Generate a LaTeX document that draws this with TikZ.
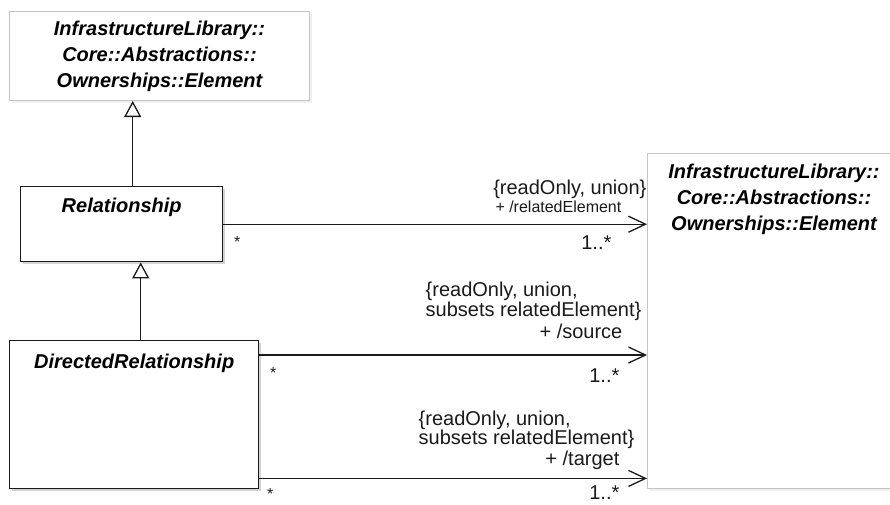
\documentclass[tikz,border=0pt]{standalone}
\usepackage{fontspec}
\setmainfont{Liberation Sans}
\usetikzlibrary{arrows.meta, shadows, positioning}
\definecolor{UMLline}{HTML}{1A1A1A}
\definecolor{UMLgray}{HTML}{C4C4C4}

\begin{document}
\begin{tikzpicture}[
      x=1pt, y=-1pt,
      box/.style={draw=UMLline, line width=1.4pt, fill=white, anchor=north west, inner sep=0pt,
                  drop shadow={shadow xshift=2.5pt, shadow yshift=-2.5pt, opacity=0.35}},
      extbox/.style={draw=UMLgray, line width=1pt, fill=white, anchor=north west, inner sep=0pt,
                  drop shadow={shadow xshift=2pt, shadow yshift=-2pt, opacity=0.12}},
      cls/.style={font=\fontsize{20}{26}\selectfont\bfseries\itshape, inner sep=0pt, align=center},
      lbl/.style={font=\fontsize{20}{19.5}\selectfont, inner sep=0pt, align=left},
      gen/.style={-{Triangle[open, length=16pt, width=17pt]}, line width=1.3pt, UMLline},
      arr/.style={-{Straight Barb[length=17pt, width=16pt]}, line width=1.3pt, UMLline}
   ]
      \useasboundingbox (0,0) rectangle (890,504);

      % classes
      \node[extbox, cls, minimum width=300pt, minimum height=89pt] (E1) at (9,11)
         {InfrastructureLibrary::\\Core::Abstractions::\\Ownerships::Element};
      \node[extbox, minimum width=253pt, minimum height=335pt] (E2) at (647,153) {};
      \node[cls, anchor=north, yshift=-10.5pt] (E2n) at (E2.north)
         {InfrastructureLibrary::\\Core::Abstractions::\\Ownerships::Element};
      \node[box, minimum width=202pt, minimum height=75pt] (R) at (20,186) {};
      \node[cls, anchor=base, yshift=-26pt] (Rn) at (R.north) {Relationship};
      \node[box, minimum width=249pt, minimum height=148pt] (D) at (9,340) {};
      \node[cls, anchor=base, yshift=-28pt] (Dn) at (D.north) {DirectedRelationship};

      % generalizations
      \draw[gen] ([xshift=11pt]R.north) -- ([xshift=11pt]R.north |- E1.south);
      \draw[gen] ([xshift=6.5pt]D.north) -- ([xshift=6.5pt]D.north |- R.south);

      % associations
      \draw[arr] (R.east) -- (R.east -| E2.west)
         node[lbl, pos=0, anchor=base west, xshift=10pt, yshift=-23pt, font=\fontsize{16}{18}\selectfont] (s1) {*}
         node[lbl, pos=1, anchor=base east, yshift=30pt] (c1) {\{readOnly, union\}}
         node[lbl, pos=1, anchor=base east, xshift=-25pt, yshift=12pt, font=\fontsize{16}{18}\selectfont] (r1) {+ /relatedElement}
         node[lbl, pos=1, anchor=base east, xshift=-35pt, yshift=-25pt] (m1) {1..*};
      \draw[arr] ([yshift=-15pt]D.north east) -- ([yshift=-15pt]D.north east -| E2.west)
         node[lbl, pos=0, anchor=base west, xshift=10pt, yshift=-23pt, font=\fontsize{16}{18}\selectfont] (s2) {*}
         node[lbl, pos=1, anchor=south east, xshift=-5pt, yshift=34pt] (c2) {\{readOnly, union,\\subsets relatedElement\}}
         node[lbl, pos=1, anchor=base east, xshift=-24pt, yshift=17pt] (r2) {+ /source}
         node[lbl, pos=1, anchor=base east, xshift=-27pt, yshift=-27pt] (m2) {1..*};
      \draw[arr] ([yshift=11pt]D.south east) -- ([yshift=11pt]D.south east -| E2.west)
         node[lbl, pos=0, anchor=base west, xshift=7pt, yshift=-21pt, font=\fontsize{16}{18}\selectfont] (s3) {*}
         node[lbl, pos=1, anchor=south east, xshift=-12pt, yshift=29pt] (c3) {\{readOnly, union,\\subsets relatedElement\}}
         node[lbl, pos=1, anchor=base east, xshift=-27pt, yshift=13pt] (r3) {+ /target}
         node[lbl, pos=1, anchor=base east, xshift=-27pt, yshift=-21pt] (m3) {1..*};
   \end{tikzpicture}
\end{document}
